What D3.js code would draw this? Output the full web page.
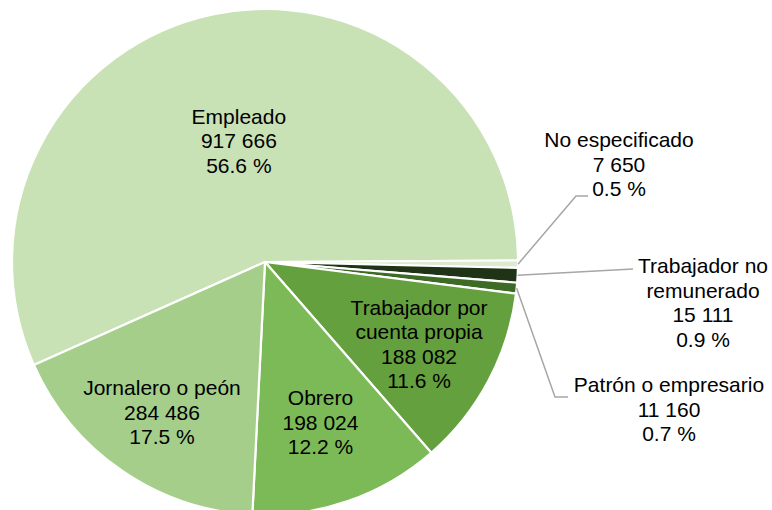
<!DOCTYPE html>
<html>
<head>
<meta charset="utf-8">
<script src="https://cdn.jsdelivr.net/npm/d3@7"></script>
<style>
  body { margin: 0; background: #fff; }
  text { font-family: "Liberation Sans", Arial, sans-serif; fill: #000; }
</style>
</head>
<body>
<div id="chart"></div>
<script>
// Data, in clockwise order as drawn
var categories = ["Empleado", "No especificado", "Trabajador no remunerado", "Patrón o empresario",
                  "Trabajador por cuenta propia", "Obrero", "Jornalero o peón"];
var values = [917666, 7650, 15111, 11160, 188082, 198024, 284486];
var percents = ["56.6 %", "0.5 %", "0.9 %", "0.7 %", "11.6 %", "12.2 %", "17.5 %"];
var colors = ["#c8e1b5", "#dcebd0", "#1f3416", "#3d6b26", "#64a03d", "#7bba57", "#a4ce89"];

// label text lines per slice (names wrapped as in the chart)
var labelLines = [
  ["Empleado"], ["No especificado"], ["Trabajador no", "remunerado"], ["Patrón o empresario"],
  ["Trabajador por", "cuenta propia"], ["Obrero"], ["Jornalero o peón"]
];

var fmt = function(v) { return d3.format(",")(v).replace(/,/g, " "); };

var w = 772, h = 510;
var cx = 265, cy = 262, r = 253;
var fontSize = 21, lineH = 24.5;

var svg = d3.select("#chart").append("svg")
    .attr("width", w)
    .attr("height", h);

var g = svg.append("g").attr("transform", "translate(" + cx + "," + cy + ")");

var start = 246 * Math.PI / 180;
var pie = d3.pie().sort(null).startAngle(start).endAngle(start + 2 * Math.PI);
var arcs = pie(values);

var arc = d3.arc().innerRadius(0).outerRadius(r);

g.selectAll("path.slice")
    .data(arcs)
    .enter()
    .append("path")
    .attr("class", "slice")
    .attr("d", arc)
    .attr("fill", function(d, i) { return colors[i]; })
    .attr("stroke", "#fff")
    .attr("stroke-width", 2.2)
    .attr("stroke-linejoin", "round");

// inside labels: radius as a fraction of r
var insideRadius = {0: 0.49, 4: 0.69, 5: 0.67, 6: 0.72};

arcs.forEach(function(d, i) {
  if (insideRadius[i] === undefined) return;
  var rr = insideRadius[i] * r;
  var p = d3.arc().innerRadius(rr).outerRadius(rr).centroid(d);
  var lines = labelLines[i].concat([fmt(values[i]), percents[i]]);
  var top = p[1] - (lines.length - 1) * lineH / 2 + fontSize * 0.36;
  var t = g.append("text")
      .attr("text-anchor", "middle")
      .style("font-size", fontSize + "px");
  lines.forEach(function(s, k) {
    t.append("tspan").attr("x", p[0]).attr("y", top + k * lineH).text(s);
  });
});

// outside labels: label centre / first baseline and leader bend points (page coords)
var outside = {
  1: {x: 619, y: 147, leader: [[576, 196], [588, 196]]},
  2: {x: 703, y: 273, leader: [[633, 269]]},
  3: {x: 669, y: 392, leader: [[555, 397], [568, 397]]}
};

var edge = d3.arc().innerRadius(r).outerRadius(r);

Object.keys(outside).forEach(function(key) {
  var i = +key, o = outside[key];
  var p = edge.centroid(arcs[i]);
  var pts = [[cx + p[0], cy + p[1]]].concat(o.leader);
  svg.append("path")
      .attr("d", d3.line()(pts))
      .attr("fill", "none")
      .attr("stroke", "#a6a6a6")
      .attr("stroke-width", 1.5);
  var lines = labelLines[i].concat([fmt(values[i]), percents[i]]);
  var t = svg.append("text")
      .attr("text-anchor", "middle")
      .style("font-size", fontSize + "px");
  lines.forEach(function(s, k) {
    t.append("tspan").attr("x", o.x).attr("y", o.y + k * lineH).text(s);
  });
});
</script>
</body>
</html>
